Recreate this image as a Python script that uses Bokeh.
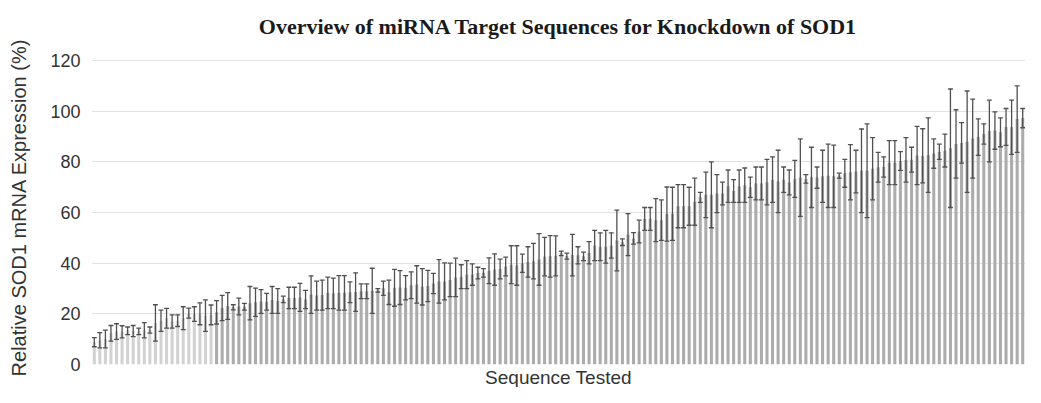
from bokeh.plotting import figure
from bokeh.models import Range1d, FixedTicker, Title
from bokeh.embed import file_html
from bokeh.resources import INLINE

# Relative SOD1 mRNA expression (%) for each tested sequence, sorted ascending
mean_expr = [
    8.8, 9.6, 10.1, 12.3, 13.0, 12.9, 13.3, 13.2, 13.1, 13.5, 13.6, 16.4, 17.3, 18.3, 17.0, 17.3,
    18.3, 20.3, 19.9, 20.0, 19.3, 19.6, 20.6, 22.3, 23.1, 22.6, 22.9, 22.8, 24.2, 24.6, 24.9, 24.8,
    25.5, 25.1, 25.7, 26.3, 26.3, 26.5, 25.7, 27.6, 27.2, 27.4, 28.3, 28.1, 28.3, 28.3, 28.5, 28.6,
    28.9, 28.9, 29.1, 29.3, 30.1, 28.5, 30.3, 30.4, 30.3, 31.3, 31.6, 30.7, 31.0, 32.0, 32.8, 32.8,
    33.4, 34.4, 34.7, 35.5, 35.5, 36.1, 36.2, 37.0, 37.5, 37.7, 38.7, 39.4, 39.1, 40.0, 40.5, 40.8,
    41.5, 42.6, 42.7, 42.9, 43.9, 42.8, 43.2, 43.1, 42.7, 44.1, 47.0, 46.5, 46.5, 47.0, 49.0, 48.3,
    51.3, 49.8, 52.5, 57.5, 57.5, 57.0, 57.0, 59.4, 59.5, 62.5, 62.5, 62.5, 64.3, 66.0, 67.0, 67.0,
    67.5, 67.5, 70.4, 68.5, 70.4, 70.8, 70.0, 71.5, 71.5, 72.0, 73.0, 72.3, 73.0, 71.9, 73.3, 73.8,
    73.3, 73.9, 73.8, 74.3, 74.5, 74.3, 74.6, 75.5, 75.9, 76.2, 76.5, 76.5, 77.3, 77.9, 78.0, 79.7,
    79.7, 80.4, 80.8, 80.9, 82.5, 82.4, 82.7, 83.3, 84.0, 84.5, 85.4, 87.1, 87.5, 88.0, 89.2, 89.8,
    91.0, 92.2, 92.4, 91.7, 93.8, 93.7, 96.9, 97.3,
]
# error bar half-lengths (%)
err_expr = [
    1.8, 3.0, 3.5, 3.1, 3.1, 2.4, 1.5, 2.2, 1.3, 3.0, 1.2, 7.2, 4.2, 3.9, 2.6, 2.3,
    4.5, 2.0, 2.9, 4.3, 6.2, 3.9, 4.6, 5.0, 5.3, 1.0, 3.3, 1.3, 6.6, 5.6, 4.7, 3.3,
    5.3, 4.9, 1.3, 4.2, 4.2, 5.5, 3.6, 7.4, 5.7, 5.9, 6.2, 6.0, 6.8, 6.8, 4.1, 7.6,
    2.9, 2.9, 8.9, 0.7, 2.8, 4.8, 7.3, 6.7, 4.8, 5.3, 7.4, 7.2, 6.2, 4.0, 8.6, 7.3,
    6.6, 7.6, 4.7, 5.5, 4.2, 2.3, 1.7, 5.1, 6.2, 3.9, 3.7, 7.5, 7.8, 3.6, 6.0, 7.0,
    10.2, 7.6, 8.2, 7.9, 0.9, 1.2, 8.2, 3.4, 1.7, 4.4, 6.0, 5.5, 6.5, 5.0, 12.0, 1.3,
    8.3, 2.3, 4.5, 4.5, 4.5, 8.5, 8.0, 10.7, 10.5, 8.5, 8.5, 7.5, 9.3, 2.0, 9.0, 13.0,
    7.5, 4.5, 6.4, 4.5, 6.4, 6.8, 4.0, 6.5, 6.5, 9.0, 9.0, 12.3, 5.0, 4.9, 7.3, 15.3,
    1.7, 11.9, 4.2, 10.3, 12.5, 12.3, 1.0, 5.5, 10.9, 8.4, 16.5, 18.5, 12.3, 5.9, 4.0, 8.7,
    8.7, 3.7, 8.8, 4.9, 11.5, 10.7, 14.7, 5.8, 3.0, 6.5, 23.4, 13.5, 8.0, 20.0, 15.6, 7.2,
    4.0, 12.2, 7.4, 5.7, 7.3, 10.7, 13.1, 3.8,
]
n_light = 22  # first group of sequences drawn in a lighter grey
y_ticks = [0, 20, 40, 60, 80, 100, 120]

N = len(mean_expr)
xs = list(range(N))
upper = [m + e for m, e in zip(mean_expr, err_expr)]
lower = [m - e for m, e in zip(mean_expr, err_expr)]
colors = ["#d2d2d2" if i < n_light else "#acacac" for i in xs]
cap = 0.44

p = figure(width=1025, height=387, output_backend="svg", toolbar_location=None,
           x_range=Range1d(-0.5, N - 0.5), y_range=Range1d(0, 124),
           min_border_left=91, min_border_right=0, min_border_top=0, min_border_bottom=0)

p.vbar(x=xs, top=mean_expr, width=0.55, fill_color=colors, line_color=None)
p.segment(x0=xs, y0=lower, x1=xs, y1=upper, line_color="#505050", line_width=1.3)
p.segment(x0=[x - cap for x in xs], y0=upper, x1=[x + cap for x in xs], y1=upper,
          line_color="#505050", line_width=1.3)
p.segment(x0=[x - cap for x in xs], y0=lower, x1=[x + cap for x in xs], y1=lower,
          line_color="#505050", line_width=1.3)

top_title = Title(text="Overview of miRNA Target Sequences for Knockdown of SOD1",
                  align="center", text_font="Liberation Serif", text_font_style="bold",
                  text_font_size="22px", text_color="#1a1a1a", standoff=23, offset=0)
p.add_layout(top_title, "above")

bottom_title = Title(text="Sequence Tested", align="center", text_font="Liberation Sans",
                     text_font_style="normal", text_font_size="19px", text_color="#333333",
                     standoff=0, offset=0)
p.add_layout(bottom_title, "below")

p.yaxis.ticker = FixedTicker(ticks=y_ticks)
p.yaxis.axis_label = "Relative SOD1 mRNA Expression (%)"
p.yaxis.axis_label_text_font = "Liberation Sans"
p.yaxis.axis_label_text_font_style = "normal"
p.yaxis.axis_label_text_font_size = "20px"
p.yaxis.axis_label_text_color = "#333333"
p.yaxis.axis_label_standoff = 17
p.yaxis.major_label_text_font = "Liberation Sans"
p.yaxis.major_label_text_font_size = "18px"
p.yaxis.major_label_text_color = "#333333"
p.yaxis.major_label_standoff = 11
p.yaxis.major_tick_out = 0
p.yaxis.major_tick_in = 0
p.yaxis.axis_line_color = None
p.yaxis.major_tick_line_color = None
p.yaxis.minor_tick_line_color = None

p.xaxis.visible = False

p.xgrid.grid_line_color = None
p.ygrid.grid_line_color = "#e2e2e2"
p.ygrid.ticker = FixedTicker(ticks=y_ticks)
p.outline_line_color = None

open("out.html", "w").write(file_html(p, INLINE))
